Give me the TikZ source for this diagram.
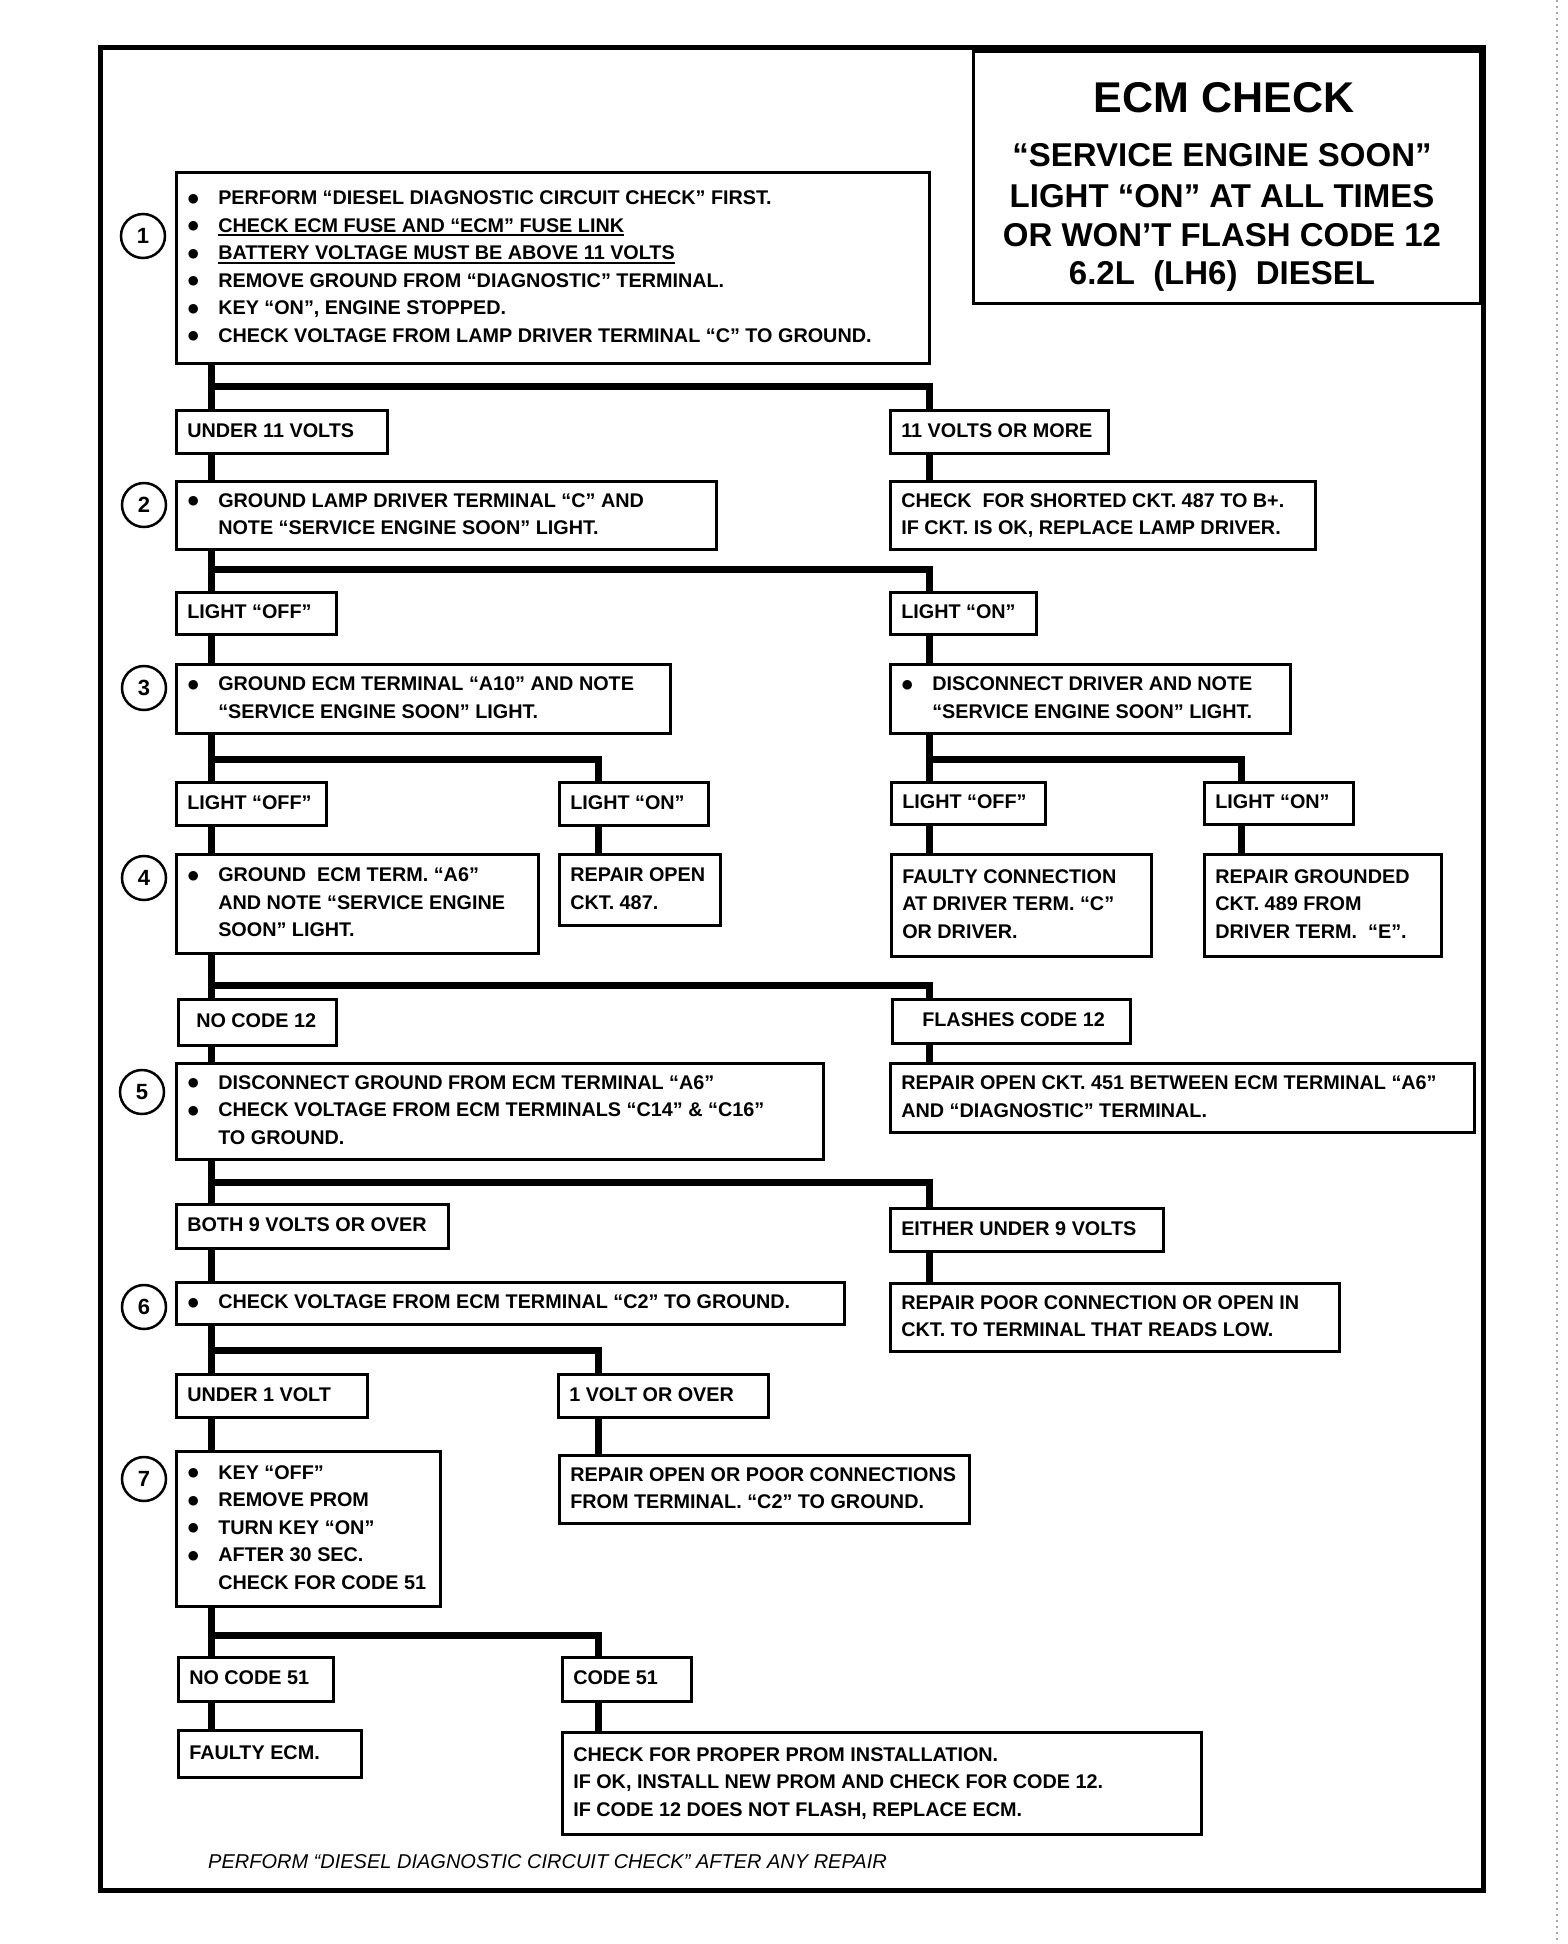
\documentclass[tikz,border=0pt]{standalone}
\usepackage{fontspec}
\setmainfont{Liberation Sans}
\newfontfamily\dejavu{DejaVu Sans}
\newcommand\txtf{\fontsize{19.8}{27.5}\selectfont\bfseries}
\newcommand\numf{\fontsize{22}{22}\selectfont\bfseries}
\newcommand\bul{\makebox[31pt][l]{\hspace{0.5pt}\raisebox{2.5pt}{\dejavu\fontsize{12.5}{12.5}\selectfont ●}}}
\newcommand\ind{\hspace*{31pt}}
\newcommand\myul[1]{\setbox0\hbox{#1}\rlap{\rule[-4pt]{\wd0}{1.8pt}}\box0}
\tikzset{
  bx/.style={draw, line width=2.5pt, fill=white, inner xsep=11pt, inner ysep=0pt, font=\txtf},
  conn/.style={line width=7pt, line join=miter},
  num/.style={circle, draw, line width=2.5pt, minimum size=44pt, inner sep=0pt, font=\numf},
  ttl/.style={anchor=base, inner sep=0pt},
}
\newcommand\bx[6]{%
  \pgfmathsetmacro\bxw{#4-#2}\pgfmathsetmacro\bxh{#5-#3}\pgfmathsetmacro\bxt{#4-#2-22}%
  \node[bx, anchor=north west, minimum width=\bxw pt, minimum height=\bxh pt] (#1) at (#2,#3)
    {\makebox[\bxt pt][l]{\begin{tabular}{@{}l@{}}#6\end{tabular}}};}
\begin{document}
\begin{tikzpicture}[x=1pt,y=-1pt]
\useasboundingbox (0,0) rectangle (1568,1944);
% scan edge
\draw[gray!70, line width=1.2pt, dash pattern=on 2pt off 4pt] (1557,0) -- (1557,1944);
% frame
\draw[line width=5pt] (100,47) rectangle (1483,1890);
% title
\node[draw, line width=3pt, anchor=north west, minimum width=507pt, minimum height=252pt, inner sep=0pt] (tbox) at (972,50) {};
\node[ttl, font=\fontsize{43}{43}\selectfont\bfseries] (t1) at (1224,112) {ECM CHECK};
\node[ttl, font=\fontsize{33}{33}\selectfont\bfseries] (t2) at (1222,166) {“SERVICE ENGINE SOON”};
\node[ttl, font=\fontsize{33}{33}\selectfont\bfseries] (t3) at (1222,207) {LIGHT “ON” AT ALL TIMES};
\node[ttl, font=\fontsize{33}{33}\selectfont\bfseries] (t4) at (1222,246) {OR WON’T FLASH CODE 12};
\node[ttl, font=\fontsize{33}{33}\selectfont\bfseries] (t5) at (1222,284) {6.2L\ \ (LH6)\ \ DIESEL};

% coordinates of columns and bars
\coordinate (XL) at (211,0);
\coordinate (XR) at (929,0);
\coordinate (XM) at (598,0);
\coordinate (XRR) at (1241,0);
\coordinate (Y1) at (0,386);
\coordinate (Y2) at (0,569);
\coordinate (Y3) at (0,759);
\coordinate (Y4) at (0,985);
\coordinate (Y5) at (0,1182);
\coordinate (Y6) at (0,1350);
\coordinate (Y7) at (0,1635);

% boxes
\bx{b1}{175}{171}{928}{362}{\bul PERFORM “DIESEL DIAGNOSTIC CIRCUIT CHECK” FIRST.\\
\bul \myul{CHECK ECM FUSE AND “ECM” FUSE LINK}\\
\bul \myul{BATTERY VOLTAGE MUST BE ABOVE 11 VOLTS}\\
\bul REMOVE GROUND FROM “DIAGNOSTIC” TERMINAL.\\
\bul KEY “ON”, ENGINE STOPPED.\\
\bul CHECK VOLTAGE FROM LAMP DRIVER TERMINAL “C” TO GROUND.}
\bx{u11}{175}{409}{386}{452}{UNDER 11 VOLTS}
\bx{o11}{889}{409}{1107}{452}{11 VOLTS OR MORE}
\bx{b2}{175}{480}{715}{548}{\bul GROUND LAMP DRIVER TERMINAL “C” AND\\ \ind NOTE “SERVICE ENGINE SOON” LIGHT.}
\bx{r2}{889}{480}{1314}{548}{CHECK\ \ FOR SHORTED CKT. 487 TO B+.\\ IF CKT. IS OK, REPLACE LAMP DRIVER.}
\bx{lo2}{175}{591}{335}{633}{LIGHT “OFF”}
\bx{ln2}{889}{591}{1035}{633}{LIGHT “ON”}
\bx{b3}{175}{663}{669}{732}{\bul GROUND ECM TERMINAL “A10” AND NOTE\\ \ind “SERVICE ENGINE SOON” LIGHT.}
\bx{r3}{889}{663}{1289}{732}{\bul DISCONNECT DRIVER AND NOTE\\ \ind “SERVICE ENGINE SOON” LIGHT.}
\bx{lo3}{175}{781}{325}{824}{LIGHT “OFF”}
\bx{ln3}{558}{781}{707}{824}{LIGHT “ON”}
\bx{lo3r}{890}{781}{1044}{823}{LIGHT “OFF”}
\bx{ln3r}{1203}{781}{1352}{823}{LIGHT “ON”}
\bx{b4}{175}{853}{537}{952}{\bul GROUND\ \ ECM TERM. “A6”\\ \ind AND NOTE “SERVICE ENGINE\\ \ind SOON” LIGHT.}
\bx{rop}{558}{853}{719}{924}{REPAIR OPEN\\ CKT. 487.}
\bx{fc}{890}{853}{1150}{955}{FAULTY CONNECTION\\ AT DRIVER TERM. “C”\\ OR DRIVER.}
\bx{rg}{1203}{853}{1440}{955}{REPAIR GROUNDED\\ CKT. 489 FROM\\ DRIVER TERM.\ \ “E”.}
\bx{nc12}{177}{998}{335}{1044}{\hspace*{7pt}NO CODE 12}
\bx{fl12}{891}{998}{1129}{1042}{\hspace*{19pt}FLASHES CODE 12}
\bx{b5}{175}{1062}{822}{1158}{\bul DISCONNECT GROUND FROM ECM TERMINAL “A6”\\ \bul CHECK VOLTAGE FROM ECM TERMINALS “C14” \& “C16”\\ \ind TO GROUND.}
\bx{r5}{889}{1062}{1473}{1131}{REPAIR OPEN CKT. 451 BETWEEN ECM TERMINAL “A6”\\ AND “DIAGNOSTIC” TERMINAL.}
\bx{both9}{175}{1203}{447}{1247}{BOTH 9 VOLTS OR OVER}
\bx{eith9}{889}{1207}{1162}{1250}{EITHER UNDER 9 VOLTS}
\bx{b6}{175}{1281}{843}{1323}{\bul CHECK VOLTAGE FROM ECM TERMINAL “C2” TO GROUND.}
\bx{r6}{889}{1282}{1338}{1350}{REPAIR POOR CONNECTION OR OPEN IN\\ CKT. TO TERMINAL THAT READS LOW.}
\bx{u1}{175}{1373}{366}{1416}{UNDER 1 VOLT}
\bx{o1}{557}{1373}{767}{1416}{1 VOLT OR OVER}
\bx{b7}{175}{1450}{439}{1605}{\bul KEY “OFF”\\ \bul REMOVE PROM\\ \bul TURN KEY “ON”\\ \bul AFTER 30 SEC.\\ \ind CHECK FOR CODE 51}
\bx{r7}{558}{1454}{968}{1522}{REPAIR OPEN OR POOR CONNECTIONS\\ FROM TERMINAL. “C2” TO GROUND.}
\bx{nc51}{177}{1656}{332}{1700}{NO CODE 51}
\bx{c51}{561}{1656}{690}{1700}{CODE 51}
\bx{fe}{177}{1729}{360}{1776}{FAULTY ECM.}
\bx{big}{561}{1731}{1200}{1833}{CHECK FOR PROPER PROM INSTALLATION.\\ IF OK, INSTALL NEW PROM AND CHECK FOR CODE 12.\\ IF CODE 12 DOES NOT FLASH, REPLACE ECM.}

% step numbers
\node[num] (n1) at (143,236) {1};
\node[num] (n2) at (144,505) {2};
\node[num] (n3) at (144,688) {3};
\node[num] (n4) at (144,878) {4};
\node[num] (n5) at (142,1092) {5};
\node[num] (n6) at (144,1307) {6};
\node[num] (n7) at (144,1479) {7};

% connectors
\draw[conn] (b1.south -| XL) -- (u11.north -| XL);
\draw[conn] (XL |- Y1) -| (o11.north -| XR);
\draw[conn] (u11.south -| XL) -- (b2.north -| XL);
\draw[conn] (o11.south -| XR) -- (r2.north -| XR);

\draw[conn] (b2.south -| XL) -- (lo2.north -| XL);
\draw[conn] (XL |- Y2) -| (ln2.north -| XR);
\draw[conn] (lo2.south -| XL) -- (b3.north -| XL);
\draw[conn] (ln2.south -| XR) -- (r3.north -| XR);

\draw[conn] (b3.south -| XL) -- (lo3.north -| XL);
\draw[conn] (XL |- Y3) -| (ln3.north -| XM);
\draw[conn] (lo3.south -| XL) -- (b4.north -| XL);
\draw[conn] (ln3.south -| XM) -- (rop.north -| XM);

\draw[conn] (r3.south -| XR) -- (lo3r.north -| XR);
\draw[conn] (XR |- Y3) -| (ln3r.north -| XRR);
\draw[conn] (lo3r.south -| XR) -- (fc.north -| XR);
\draw[conn] (ln3r.south -| XRR) -- (rg.north -| XRR);

\draw[conn] (b4.south -| XL) -- (nc12.north -| XL);
\draw[conn] (XL |- Y4) -| (fl12.north -| XR);
\draw[conn] (nc12.south -| XL) -- (b5.north -| XL);
\draw[conn] (fl12.south -| XR) -- (r5.north -| XR);

\draw[conn] (b5.south -| XL) -- (both9.north -| XL);
\draw[conn] (XL |- Y5) -| (eith9.north -| XR);
\draw[conn] (both9.south -| XL) -- (b6.north -| XL);
\draw[conn] (eith9.south -| XR) -- (r6.north -| XR);

\draw[conn] (b6.south -| XL) -- (u1.north -| XL);
\draw[conn] (XL |- Y6) -| (o1.north -| XM);
\draw[conn] (u1.south -| XL) -- (b7.north -| XL);
\draw[conn] (o1.south -| XM) -- (r7.north -| XM);

\draw[conn] (b7.south -| XL) -- (nc51.north -| XL);
\draw[conn] (XL |- Y7) -| (c51.north -| XM);
\draw[conn] (nc51.south -| XL) -- (fe.north -| XL);
\draw[conn] (c51.south -| XM) -- (big.north -| XM);

% footer
\node[anchor=base west, inner sep=0pt, font=\fontsize{20}{20}\selectfont\itshape] (foot) at (208,1868) {PERFORM “DIESEL DIAGNOSTIC CIRCUIT CHECK” AFTER ANY REPAIR};
\end{tikzpicture}
\end{document}
